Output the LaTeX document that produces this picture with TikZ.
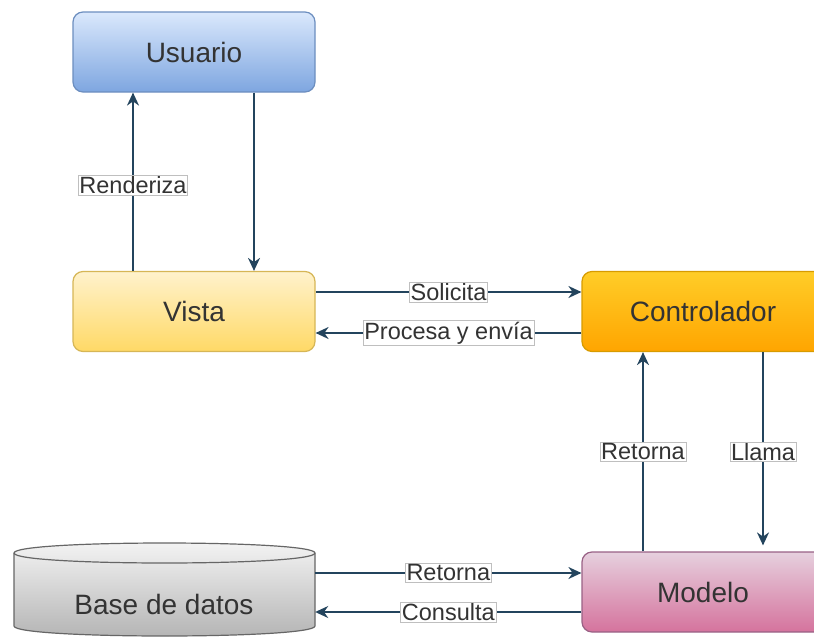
\documentclass[tikz,border=0pt]{standalone}
\usepackage{fontspec}
\setmainfont{Liberation Sans}
\usetikzlibrary{arrows.meta,calc}
\definecolor{edgec}{HTML}{23445D}
\definecolor{txt}{HTML}{333333}
\definecolor{usrT}{HTML}{DAE8FC}\definecolor{usrB}{HTML}{7EA6E0}\definecolor{usrS}{HTML}{6C8EBF}
\definecolor{visT}{HTML}{FFF2CC}\definecolor{visB}{HTML}{FFD966}\definecolor{visS}{HTML}{D6B656}
\definecolor{ctlT}{HTML}{FFCD28}\definecolor{ctlB}{HTML}{FFA500}\definecolor{ctlS}{HTML}{D79B00}
\definecolor{modT}{HTML}{E6D0DE}\definecolor{modB}{HTML}{D5739D}\definecolor{modS}{HTML}{996185}
\definecolor{dbT}{HTML}{F5F5F5}\definecolor{dbB}{HTML}{B3B3B3}\definecolor{dbS}{HTML}{666666}
\tikzset{
  box/.style={rectangle, rounded corners=10pt, minimum width=242pt, minimum height=80pt,
    line width=1.2pt, text=txt, font=\fontsize{28}{30}\selectfont, inner sep=0pt},
  arr/.style={draw=edgec, line width=1.8pt, -{Stealth[length=13pt,width=12pt]}},
  lbl/.style={fill=white, draw=black!25, line width=0.6pt, text=txt, inner sep=1.2pt,
    font=\fontsize{23.5}{25}\selectfont}
}
\begin{document}
\begin{tikzpicture}[x=1pt,y=-1pt]
\useasboundingbox (0,0) rectangle (814,637);
% nodes
\node[box, top color=usrT, bottom color=usrB, draw=usrS] (usr) at (194,52) {Usuario};
\node[box, top color=visT, bottom color=visB, draw=visS] (vis) at (194,311.5) {Vista};
\node[box, top color=ctlT, bottom color=ctlB, draw=ctlS] (ctl) at (703,311.5) {Controlador};
\node[box, top color=modT, bottom color=modB, draw=modS] (mod) at (703,592) {Modelo};
% database cylinder
\path[draw=dbS, line width=1.2pt, top color=dbT, bottom color=dbB]
  (14,553) -- (14,626) .. controls (14,639.33) and (315,639.33) .. (315,626)
  -- (315,553) .. controls (315,539.67) and (14,539.67) .. (14,553) -- cycle;
\draw[dbS, line width=1.2pt] (14,553) .. controls (14,566.33) and (315,566.33) .. (315,553);
\node[minimum width=301pt, minimum height=93pt, inner sep=0pt] (db) at (164.5,589.5) {};
\node[text=txt, font=\fontsize{28}{30}\selectfont, anchor=base] (dbt) at (164,614) {Base de datos};
% coordinates for x / y positions
\coordinate (xa) at (133,0);
\coordinate (xb) at (254,0);
\coordinate (xc) at (643,0);
\coordinate (xd) at (763,0);
\coordinate (ya) at (0,292);
\coordinate (yb) at (0,333);
\coordinate (yc) at (0,573);
\coordinate (yd) at (0,612);
% connectors
\draw[arr] (vis.north -| xa) -- node[lbl, pos=0.48] {Renderiza} (usr.south -| xa);
\draw[arr] (usr.south -| xb) -- (vis.north -| xb);
\draw[arr] (vis.east |- ya) -- node[lbl] {Solicita} (ctl.west |- ya);
\draw[arr] (ctl.west |- yb) -- node[lbl] {Procesa y envía} (vis.east |- yb);
\draw[arr] (mod.north -| xc) -- node[lbl] {Retorna} (ctl.south -| xc);
\draw[arr, shorten >=6pt] (ctl.south -| xd) -- node[lbl] {Llama} (mod.north -| xd);
\draw[arr] (db.east |- yc) -- node[lbl] {Retorna} (mod.west |- yc);
\draw[arr] (mod.west |- yd) -- node[lbl] {Consulta} (db.east |- yd);
\end{tikzpicture}
\end{document}
